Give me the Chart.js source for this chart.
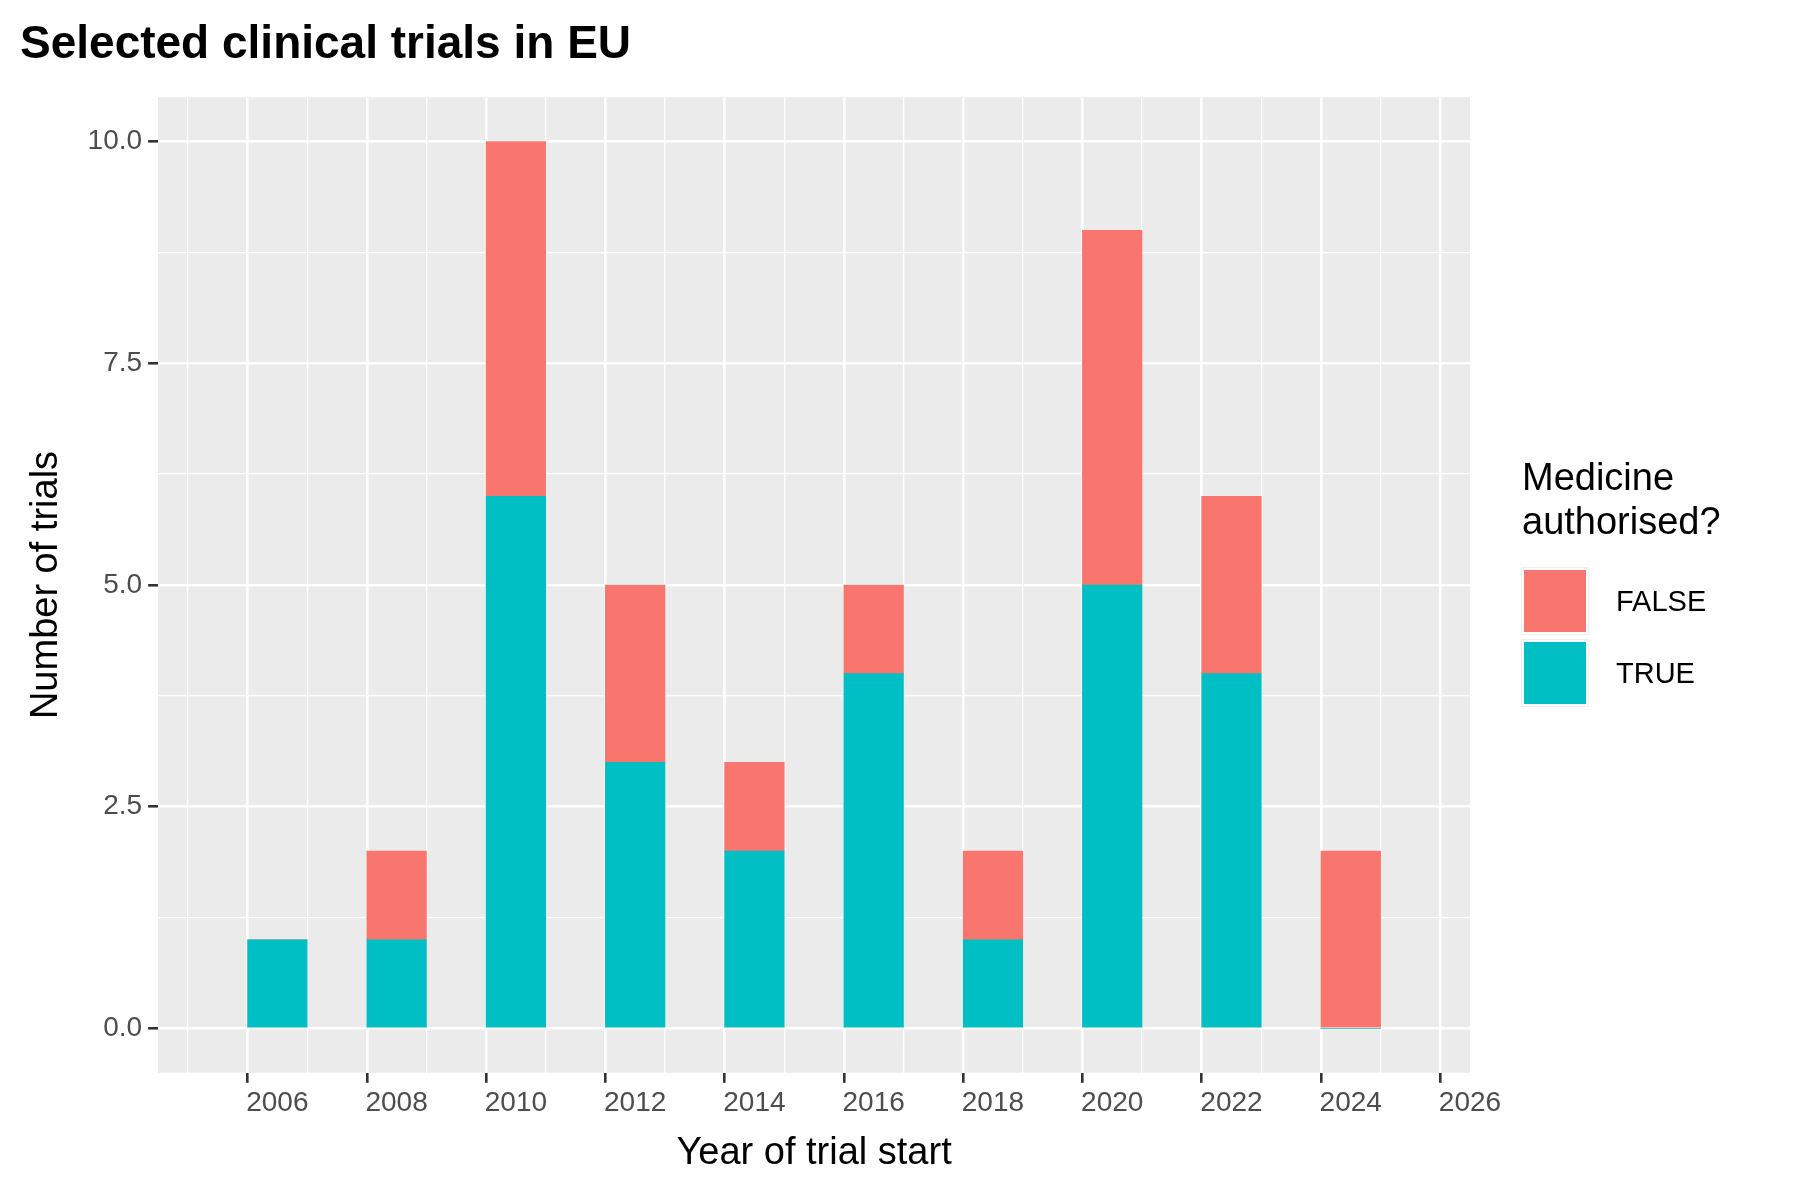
<!DOCTYPE html>
<html><head><meta charset="utf-8">
<script src="https://cdn.jsdelivr.net/npm/chart.js@4"></script>
<style>
body{margin:0;background:#fff;font-family:"Liberation Sans",Arial,sans-serif}
#wrap{position:relative;width:1800px;height:1200px}
#leg{position:absolute;left:1522px;top:455px;color:#000}
#leg .t{font-size:38px;line-height:44px;margin-bottom:22px}
.row{display:flex;align-items:center;height:72px;font-size:29px}
.sw{width:66px;height:66px;margin-right:28px;border:2px solid #fff;box-sizing:border-box;outline:1px solid #eee}
</style></head><body>
<div id="wrap"><canvas id="c" width="1800" height="1200"></canvas>
<div id="leg"><div class="t">Medicine<br>authorised?</div>
<div class="row"><div class="sw" style="background:#F8766D"></div>FALSE</div>
<div class="row"><div class="sw" style="background:#00BFC4"></div>TRUE</div></div></div>
<script>
const years=[2006,2008,2010,2012,2014,2016,2018,2020,2022,2024];
const trueCounts=[1,1,6,3,2,4,1,5,4,0];
const falseCounts=[0,1,4,2,1,1,1,4,2,2];
const bg={id:'bg',beforeDraw(ch){const a=ch.chartArea,c=ch.ctx;c.save();c.fillStyle='#EBEBEB';c.fillRect(a.left,a.top,a.right-a.left,a.bottom-a.top);c.restore();}};
const F="'Liberation Sans', Arial, sans-serif";
new Chart(document.getElementById('c'),{type:'bar',
data:{datasets:[
{label:'TRUE',data:years.map((x,i)=>({x,y:trueCounts[i]})),backgroundColor:'#00BFC4',barPercentage:1,categoryPercentage:1},
{label:'FALSE',data:years.map((x,i)=>({x,y:falseCounts[i]})),backgroundColor:'#F8766D',barPercentage:1,categoryPercentage:1}]},
options:{responsive:false,animation:false,layout:{padding:{left:20,right:330,top:10,bottom:20}},
plugins:{legend:{display:false},tooltip:{enabled:false},
title:{display:true,text:'Selected clinical trials in EU',align:'start',color:'#000',font:{family:F,size:46},padding:{top:8,bottom:24}}},
scales:{
x:{type:'linear',stacked:true,offset:false,min:2004,max:2026,
ticks:{stepSize:1,autoSkip:false,maxRotation:0,color:'#4D4D4D',font:{family:F,size:28},padding:4,callback:v=>v%2===0&&v>2004?String(v):''},
grid:{color:'#fff',lineWidth:c=>c.tick&&c.tick.value%2===0?2.6:1.3,tickColor:c=>c.tick&&c.tick.value%2===0&&c.tick.value>2004?'#333':'rgba(0,0,0,0)',tickLength:10,drawTicks:true},
border:{display:false},
title:{display:true,text:'Year of trial start',color:'#000',font:{family:F,size:38},padding:{top:6}}},
y:{stacked:true,min:-0.5,max:10.5,
afterBuildTicks:ax=>{ax.ticks=[0,1.25,2.5,3.75,5,6.25,7.5,8.75,10].map(v=>({value:v}));},
ticks:{color:'#4D4D4D',font:{family:F,size:28},padding:6,callback:v=>(v%2.5===0)?v.toFixed(1):''},
grid:{color:'#fff',lineWidth:c=>c.tick&&c.tick.value%2.5===0?2.6:1.3,tickColor:c=>c.tick&&c.tick.value%2.5===0?'#333':'rgba(0,0,0,0)',tickLength:10},
border:{display:false},
title:{display:true,text:'Number of trials',color:'#000',font:{family:F,size:38},padding:{bottom:12}}}}},
plugins:[bg]});
</script></body></html>
